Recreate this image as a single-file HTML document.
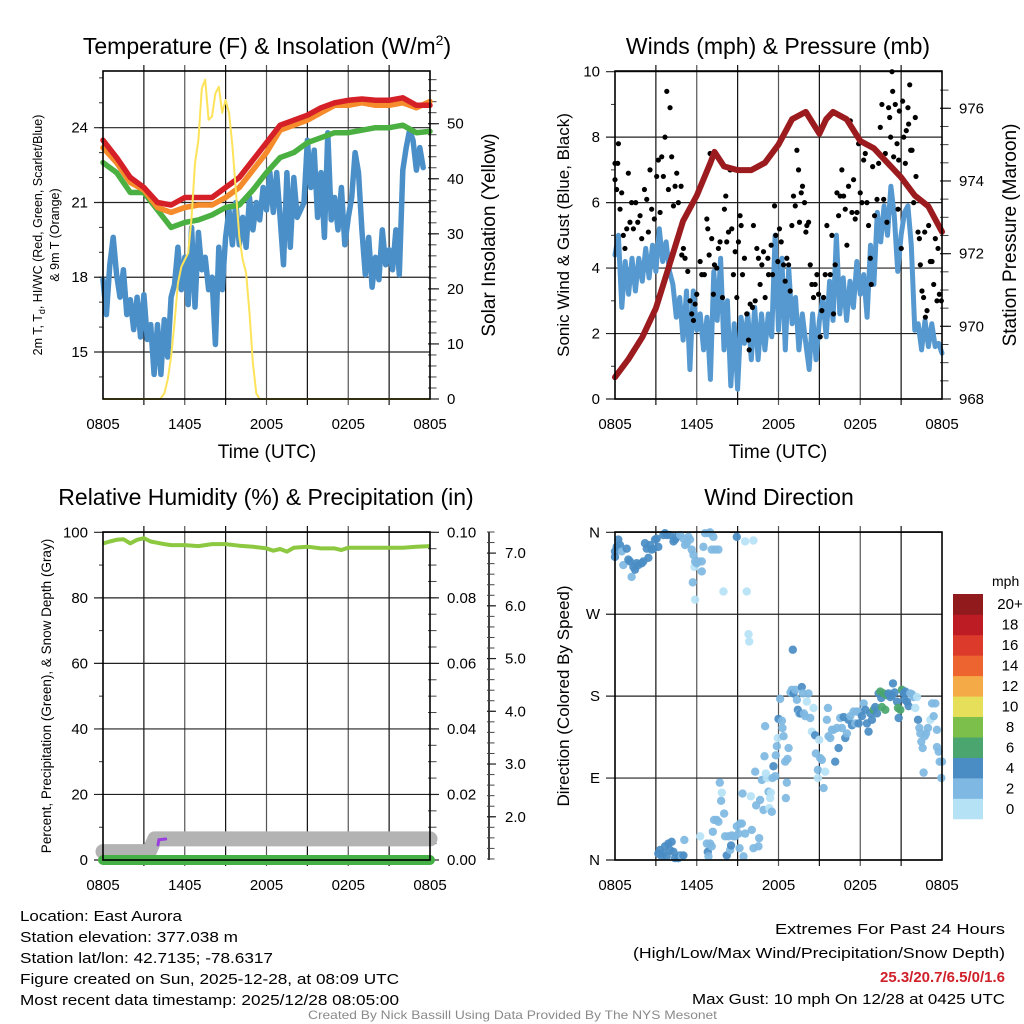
<!DOCTYPE html>
<html><head><meta charset="utf-8">
<style>
html,body{margin:0;padding:0;background:#fff;}
svg{display:block;font-family:"Liberation Sans",Arial,sans-serif;}
.nar{font-family:"Liberation Sans Narrow","Liberation Sans",sans-serif;}
</style></head>
<body>
<svg id="fig" width="1024" height="1024" viewBox="0 0 1024 1024" xmlns="http://www.w3.org/2000/svg">
<rect x="0" y="0" width="1024" height="1024" fill="#fff"/>
<text x="267" y="54" font-size="23" text-anchor="middle">Temperature (F) &amp; Insolation (W/m<tspan dy="-9" font-size="14">2</tspan><tspan dy="9">)</tspan></text>
<text x="778" y="54" font-size="23" text-anchor="middle">Winds (mph) &amp; Pressure (mb)</text>
<text x="266" y="505" font-size="23" text-anchor="middle">Relative Humidity (%) &amp; Precipitation (in)</text>
<text x="779" y="505" font-size="23" text-anchor="middle">Wind Direction</text>
<text x="267" y="458" font-size="19" text-anchor="middle">Time (UTC)</text>
<text x="778" y="458" font-size="19" text-anchor="middle">Time (UTC)</text>
<text transform="translate(42,235) rotate(-90)" font-size="12.5" text-anchor="middle">2m T, T<tspan font-size="9" dy="3">d</tspan><tspan dy="-3">, HI/WC (Red, Green, Scarlet/Blue)</tspan></text>
<text transform="translate(59,235) rotate(-90)" font-size="12.5" text-anchor="middle">&amp; 9m T (Orange)</text>
<text transform="translate(495,235) rotate(-90)" font-size="19" text-anchor="middle">Solar Insolation (Yellow)</text>
<text transform="translate(569,235) rotate(-90)" font-size="17" text-anchor="middle">Sonic Wind &amp; Gust (Blue, Black)</text>
<text transform="translate(1016,235) rotate(-90)" font-size="19" text-anchor="middle">Station Pressure (Maroon)</text>
<text transform="translate(51,696) rotate(-90)" font-size="13.5" text-anchor="middle">Percent, Precipitation (Green), &amp; Snow Depth (Gray)</text>
<text transform="translate(569,696) rotate(-90)" font-size="17" text-anchor="middle">Direction (Colored By Speed)</text>
<text x="992" y="586" font-size="14">mph</text>
<g class="nar" font-size="15">
<text x="20" y="921" textLength="162" lengthAdjust="spacingAndGlyphs">Location: East Aurora</text>
<text x="20" y="942" textLength="218" lengthAdjust="spacingAndGlyphs">Station elevation: 377.038 m</text>
<text x="20" y="963" textLength="253" lengthAdjust="spacingAndGlyphs">Station lat/lon: 42.7135; -78.6317</text>
<text x="20" y="984" textLength="379" lengthAdjust="spacingAndGlyphs">Figure created on Sun, 2025-12-28, at 08:09 UTC</text>
<text x="20" y="1005" textLength="379" lengthAdjust="spacingAndGlyphs">Most recent data timestamp: 2025/12/28 08:05:00</text>
</g>
<g class="nar" font-size="15">
<text x="775" y="934" textLength="230" lengthAdjust="spacingAndGlyphs">Extremes For Past 24 Hours</text>
<text x="633" y="958" textLength="372" lengthAdjust="spacingAndGlyphs">(High/Low/Max Wind/Precipitation/Snow Depth)</text>
<text x="880" y="982" textLength="125" lengthAdjust="spacingAndGlyphs" font-weight="bold" fill="#d0202a">25.3/20.7/6.5/0/1.6</text>
<text x="692" y="1004" textLength="313" lengthAdjust="spacingAndGlyphs">Max Gust: 10 mph On 12/28 at 0425 UTC</text>
</g>
<text x="308" y="1019" font-size="12" fill="#8a8a8a" textLength="409" lengthAdjust="spacingAndGlyphs" class="nar">Created By Nick Bassill Using Data Provided By The NYS Mesonet</text>
</svg>
<script>
// ---- Data (hours since 0805 UTC) ----
const tHours = [0,1,2,3,4,5,6,7,8,9,10,11,12,13,14,15,16,17,18,19,20,21,22,23,24];
const tempRed = [23.5,22.8,22.0,21.6,21.0,20.9,21.2,21.2,21.2,21.6,22.0,22.7,23.4,24.1,24.3,24.5,24.8,25.0,25.1,25.15,25.1,25.1,25.2,24.9,24.9];
const tempOrange = [23.2,22.6,21.8,21.5,20.8,20.6,20.8,20.9,20.9,21.2,21.6,22.3,23.0,23.9,24.1,24.3,24.6,24.9,24.9,25.0,24.9,24.9,25.0,24.8,25.05];
const tempGreen = [22.6,22.2,21.4,21.4,20.7,20.0,20.2,20.3,20.5,20.8,20.9,21.5,22.2,22.8,23.0,23.4,23.6,23.8,23.8,23.9,24.0,24.0,24.1,23.8,23.85];
const dewHours = [0,0.25,0.5,0.75,1,1.25,1.5,1.75,2,2.25,2.5,2.75,3,3.25,3.5,3.75,4,4.25,4.5,4.75,5,5.25,5.5,5.75,6,6.25,6.5,6.75,7,7.25,7.5,7.75,8,8.25,8.5,8.75,9,9.25,9.5,9.75,10,10.25,10.5,10.75,11,11.25,11.5,11.75,12,12.25,12.5,12.75,13,13.25,13.5,13.75,14,14.25,14.5,14.75,15,15.25,15.5,15.75,16,16.25,16.5,16.75,17,17.25,17.5,17.75,18,18.25,18.5,18.75,19,19.25,19.5,19.75,20,20.25,20.5,20.75,21,21.25,21.5,21.75,22,22.25,22.5,22.75,23,23.25,23.5];
const dewBlue = [17.9,16.5,18.5,19.6,18.1,17.2,18.3,16.5,17.1,15.9,17.2,15.6,17.3,15.5,16.1,14.1,16.1,14.1,16.3,14.8,17.2,17.7,19.2,17.5,18.8,16.9,20.0,16.8,19.8,18.3,18.8,17.5,18.0,15.3,19.2,17.5,19.6,20.7,19.3,21.0,19.3,20.4,19.2,21.2,19.9,21.0,20.3,21.6,20.7,22.2,20.6,22.2,20.4,18.5,22.2,19.2,22.0,20.4,20.7,21.0,23.5,21.6,23.1,20.4,22.2,19.6,23.8,20.3,21.2,19.9,21.6,19.3,20.4,21.2,23.0,22.2,19.9,18.1,19.6,17.6,18.8,17.9,19.9,18.5,19.1,18.3,19.9,18.1,22.3,23.2,23.9,23.5,22.3,23.2,22.4];
const solarHours = [0,4.2,4.5,4.75,5,5.25,5.5,5.75,6,6.25,6.5,6.75,7,7.25,7.5,7.75,8,8.25,8.5,8.75,9,9.25,9.5,9.75,10,10.25,10.5,10.75,11,11.25,11.5,24];
const solar = [0,0,1,3.5,7.7,13.8,21,24,25.3,26.5,33,42.8,47,56.4,58,50.7,51.3,55.5,56.7,52,54.3,52,46,38,29.5,25.3,22.9,15.6,6.5,1,0,0];
const presHours = [0,1,2,3,4,5,6,7,7.3,8,9,10,11,12,13,14,15,15.5,16,17,18,19,20,21,22,23,24];
const pressure = [968.6,969.1,969.7,970.5,971.7,972.9,973.6,974.5,974.8,974.4,974.3,974.3,974.5,975.0,975.7,975.9,975.3,975.7,975.9,975.7,975.1,974.9,974.5,974.1,973.6,973.3,972.6];
const windHours = [0,0.25,0.5,0.75,1,1.25,1.5,1.75,2,2.25,2.5,2.75,3,3.25,3.5,3.75,4,4.25,4.5,4.75,5,5.25,5.5,5.75,6,6.25,6.5,6.75,7,7.25,7.5,7.75,8,8.25,8.5,8.75,9,9.25,9.5,9.75,10,10.25,10.5,10.75,11,11.25,11.5,11.75,12,12.25,12.5,12.75,13,13.25,13.5,13.75,14,14.25,14.5,14.75,15,15.25,15.5,15.75,16,16.25,16.5,16.75,17,17.25,17.5,17.75,18,18.25,18.5,18.75,19,19.25,19.5,19.75,20,20.25,20.5,20.75,21,21.25,21.5,21.75,22,22.25,22.5,22.75,23,23.25,23.5,23.75,24];
const windSpeed = [4.4,5.0,2.8,4.2,3.2,4.3,3.3,4.3,3.6,4.6,3.7,4.7,3.9,5.2,4.2,4.8,3.9,3.5,2.5,3.1,1.8,3.3,0.9,3.3,2.1,2.6,1.5,2.5,0.6,3.9,2.4,4.3,1.5,3.0,0.4,2.3,0.3,2.5,1.7,2.6,1.2,2.8,1.2,2.6,1.5,2.6,1.9,5.0,2.1,4.3,1.5,4.0,2.3,3.1,1.5,2.6,1.7,0.9,2.6,1.2,2.4,3.1,1.9,3.6,2.4,5.0,2.6,3.7,2.4,3.6,2.8,4.2,3.2,3.8,2.5,4.7,3.5,5.7,4.8,5.9,5.0,6.5,5.6,3.9,5.0,5.7,5.9,4.7,2.1,2.3,1.5,2.4,1.6,2.3,1.6,1.7,1.4];
const gustHours = [0,0,0.2,0.25,0.12,0.37,0.49,0.61,0.73,0.86,0.98,1.1,1.22,1.35,1.52,1.67,1.84,1.96,2.16,2.33,2.45,2.57,2.69,2.89,3.06,3.18,3.31,3.43,3.55,3.67,3.8,3.92,4.04,4.16,4.29,4.41,4.53,4.65,4.78,4.85,4.9,5.02,5.14,5.34,5.51,5.63,5.76,5.88,6.0,6.25,6.37,6.56,6.74,6.81,6.91,6.98,7.1,7.22,7.3,7.47,7.59,7.71,7.89,8.03,8.13,8.2,8.33,8.45,8.57,8.69,8.82,8.94,9.06,9.18,9.26,9.36,9.5,9.67,9.8,9.85,9.92,10.09,10.16,10.29,10.41,10.53,10.65,10.78,10.9,11.02,11.22,11.27,11.46,11.56,11.71,11.8,11.95,12.07,12.2,12.37,12.49,12.61,12.74,12.86,12.98,13.1,13.23,13.35,13.47,13.54,13.67,13.76,13.91,14.01,14.08,14.21,14.33,14.45,14.57,14.69,14.82,14.94,15.06,15.18,15.31,15.43,15.55,15.8,15.92,16.04,16.16,16.29,16.41,16.53,16.65,16.78,16.9,17.02,17.14,17.27,17.39,17.51,17.63,17.76,17.88,18.0,18.12,18.25,18.37,18.49,18.61,18.74,18.81,18.91,19.05,19.23,19.35,19.47,19.59,19.72,19.84,19.96,20.08,20.16,20.23,20.33,20.38,20.45,20.57,20.7,20.77,20.82,20.87,21.01,21.11,21.19,21.31,21.38,21.5,21.55,21.63,21.7,21.8,21.92,22.04,22.09,22.24,22.34,22.41,22.53,22.65,22.73,22.78,22.9,23.02,23.14,23.27,23.39,23.51,23.63,23.71,23.81,23.95];
const gustSpeed = [7.2,6.7,7.2,7.8,6.4,5.8,6.3,5.0,4.6,5.2,6.9,5.4,6.0,5.2,6.0,5.4,5.6,4.9,6.4,6.1,5.1,7.0,5.8,5.5,6.8,7.3,5.7,7.4,6.8,8.0,9.4,6.4,8.9,7.4,5.9,6.5,6.9,6.0,5.2,6.5,4.4,4.6,4.3,3.9,3.0,2.6,2.4,2.9,3.2,4.2,3.8,3.8,5.5,5.2,4.4,7.5,4.9,3.2,4.1,4.0,4.6,4.8,3.1,5.8,6.2,4.8,5.1,7.0,5.2,3.8,4.5,3.1,4.8,5.6,5.3,3.8,4.3,2.6,1.8,1.5,2.9,2.8,5.3,3.0,4.6,4.3,3.5,4.1,4.5,3.1,4.3,3.8,4.7,3.8,5.9,5.0,4.2,5.2,4.8,4.1,3.6,4.3,4.1,3.3,5.3,6.2,5.9,7.6,7.0,5.4,6.3,6.5,6.0,5.1,5.3,5.4,4.1,3.5,3.1,3.5,3.8,3.2,1.9,2.7,3.1,3.8,5.3,3.8,5.0,2.6,4.1,6.3,5.6,6.2,7.0,6.2,5.8,4.7,6.5,8.5,5.7,6.7,5.5,5.7,7.8,6.3,6.0,7.3,7.5,6.0,5.3,4.3,3.5,7.1,5.6,6.1,7.2,8.3,9.0,6.1,7.5,5.4,8.9,8.6,8.0,10.0,9.4,7.4,9.0,7.8,5.8,7.3,8.8,4.6,9.1,8.0,7.2,8.2,8.9,8.4,9.6,7.6,7.6,6.0,8.6,6.8,5.1,4.9,4.1,3.3,3.1,5.1,2.5,2.7,5.3,4.2,4.2,3.5,4.9,3.0,4.6,3.2,3.0];
const rhHours = [0,0.5,1,1.5,2,2.5,3,3.5,4,4.5,5,6,7,8,9,10,11,12,12.5,13,13.5,14,15,16,17,17.5,18,19,20,21,22,23,24];
const rh = [96.6,97.2,97.7,97.9,96.6,97.7,98.2,97.2,96.8,96.4,96.1,96.1,95.8,96.4,96.4,95.9,95.6,95.1,94.4,94.9,94.1,95.3,95.6,95.1,95.1,94.6,95.3,95.3,95.3,95.3,95.3,95.6,95.8];
const precipHours = [0,24];
const precip = [0,0];
const snowHours = [0,3.4,3.8,24];
const snowDepth = [1.34,1.34,1.58,1.58];
const purpleHours = [4.04,4.1,4.6];
const purpleVals = [4.6,6.2,6.4];
const dirHours = [0,0,0.12,0.24,0.37,0.49,0.61,0.86,0.98,1.1,1.22,1.35,1.47,1.59,1.71,1.96,2.08,2.2,2.33,2.45,2.57,2.69,2.82,2.94,3.06,3.18,3.55,3.67,3.8,4.04,4.29,4.41,4.53,4.78,5.02,5.14,5.27,5.39,5.51,5.63,5.76,5.83,5.88,6.0,6.12,6.37,6.37,5.71,5.88,6.49,6.61,6.86,6.98,7.1,7.22,7.35,7.59,7.96,8.94,9.55,9.67,9.8,9.85,10.16,
3.18,3.31,3.43,3.55,3.67,3.8,3.92,4.04,4.16,4.29,4.41,4.65,4.78,4.9,5.02,5.09,6.25,6.74,6.81,6.86,6.98,7.1,7.18,7.27,7.47,7.59,7.69,7.79,7.84,8.01,8.08,8.2,8.33,8.45,8.52,8.57,8.69,8.82,8.94,9.06,9.18,9.31,9.43,9.14,9.36,9.55,9.97,10.04,10.16,10.29,10.36,10.53,10.58,10.65,10.78,10.9,11.02,10.97,11.07,11.14,11.27,11.32,11.39,11.44,11.51,11.56,11.63,11.76,11.8,11.88,11.95,12.0,12.12,12.25,12.29,12.37,12.49,12.54,12.61,12.66,12.74,12.88,12.98,13.05,13.1,13.23,13.35,13.42,13.52,13.61,13.71,13.79,13.86,13.96,14.08,14.2,14.33,14.45,14.57,14.69,14.74,14.89,14.89,14.99,15.06,15.18,15.31,15.43,15.55,15.63,15.67,15.8,15.92,16.04,16.16,16.29,16.41,16.53,16.65,16.78,16.9,17.02,17.14,17.27,17.39,17.51,17.63,17.76,17.88,18.0,18.12,18.25,18.37,18.49,18.61,18.74,18.86,18.98,19.1,19.23,19.35,19.47,19.54,19.59,19.72,19.84,19.96,20.08,20.21,20.33,20.4,20.52,20.7,20.77,20.82,20.94,21.06,21.19,21.26,21.31,21.43,21.55,21.67,21.8,21.92,22.04,22.17,22.24,22.34,22.41,22.48,22.58,22.65,22.73,22.83,22.97,23.14,23.27,23.39,23.51,23.63,23.63,23.76,23.83,24.0,23.95];
const dirDeg = [333,339,344,352,346,339,324,342,330,328,311,322,319,326,324,326,328,348,342,332,346,341,342,352,353,344,357,359,357,357,350,352,355,357,353,346,348,355,352,341,335,322,328,326,328,328,317,305,286,344,359,359,360,341,355,341,341,295,355,350,295,248,240,351,
7,11,4,7,15,4,18,11,20,9,2,2,5,4,5,22,26,18,9,4,18,15,31,44,44,42,85,65,74,51,26,5,26,11,16,27,26,26,37,29,40,40,4,13,73,29,70,33,13,97,60,15,24,66,88,55,147,114,95,90,75,57,68,74,53,90,103,92,115,125,134,155,177,153,145,136,108,68,85,111,123,184,187,231,183,187,176,165,161,161,190,183,161,158,174,183,156,141,167,137,117,99,90,132,112,110,79,97,154,167,136,134,143,143,108,145,123,156,145,157,134,139,154,158,148,163,150,163,150,163,158,172,165,150,141,161,154,165,168,161,183,185,178,168,183,165,181,183,179,181,194,184,174,167,156,165,187,183,176,185,174,169,183,182,179,167,179,154,145,139,130,123,96,136,139,145,154,172,158,172,143,124,119,108,108,90];
const dirSpeed = [5,5,5,5,5,3,3,5,5,5,3,5,5,5,5,5,5,5,5,5,5,5,5,5,5,5,5,5,5,5,5,5,5,3,3,3,3,3,3,3,3,1,3,3,3,3,3,3,1,3,3,3,3,3,3,3,3,1,5,1,1,1,1,1,
5,5,5,5,5,5,5,5,5,5,5,5,5,3,5,3,1,3,5,3,3,3,3,3,3,3,3,3,1,3,3,5,3,3,5,3,3,3,3,3,3,3,3,3,3,3,1,3,3,3,3,3,3,3,3,3,3,3,1,1,3,1,1,1,3,3,5,3,3,3,1,5,3,3,3,3,3,3,3,3,3,3,3,5,5,3,3,5,3,5,5,3,3,3,1,3,3,1,1,5,3,3,1,1,3,3,3,1,3,3,3,3,3,3,5,3,5,3,3,5,5,3,5,3,5,3,3,3,5,3,5,3,5,5,5,5,5,7,5,5,5,7,5,7,7,7,7,5,5,5,5,5,5,7,5,7,7,5,5,5,5,5,3,3,3,1,1,5,3,3,3,3,3,3,3,3,1,3,3,3,3,3,3,3,3,3,3,3,3];
const speedBins = ['0','2','4','6','8','10','12','14','16','18','20+'];
const binColors = ['#b6e2f6','#7fb8e2','#4a8dc4','#4aa66e','#7cbf4a','#e6df5a','#f5aa48','#ee6431','#dc3a2b','#bd1c24','#911a1c'];
const xTickLabels = ['0805','1405','2005','0205','0805'];

// ---- helpers ----
const NS = 'http://www.w3.org/2000/svg';
const svg = document.getElementById('fig');
function mk(parent, tag, attrs){ const e=document.createElementNS(NS,tag); for(const k in attrs) e.setAttribute(k,attrs[k]); parent.appendChild(e); return e; }
function lin(d0,d1,r0,r1){ return v => r0 + (v-d0)*(r1-r0)/(d1-d0); }
function pathFrom(xs, ys, fx, fy){ let d=''; for(let i=0;i<xs.length;i++){ d += (i?'L':'M') + fx(xs[i]).toFixed(1)+','+fy(ys[i]).toFixed(1); } return d; }

function panelFrame(g, P, name){
  const sx = lin(0,24,P.x0,P.x1);
  for(let h=3; h<24; h+=3){
    const ln = mk(g,'line',{x1:sx(h),x2:sx(h),y1:P.y0-6,y2:P.y1+6,stroke: h%6===0?'#555':'#111','stroke-width':1.2});
    
    
  }
  for(let i=0;i<xTickLabels.length;i++){
    const tx = mk(g,'text',{x:sx(i*6),y:P.y1+30,'font-size':15,'text-anchor':'middle'});
    tx.textContent = xTickLabels[i];
    
    
  }
}
function leftAxis(g, P, name, fy, majors, labels, minors, gridOn){
  for(const m of minors){
    const t = mk(g,'line',{x1:P.x0-4,x2:P.x0,y1:fy(m),y2:fy(m),stroke:'#333','stroke-width':1});
    
    
  }
  majors.forEach((m,i)=>{
    const y=fy(m);
    const ln = mk(g,'line',{x1:P.x0-9,x2:gridOn?P.x1:P.x0,y1:y,y2:y,stroke:'#222','stroke-width':1.2});
    
    
    const tx = mk(g,'text',{x:P.x0-15,y:y+5,'font-size':15,'text-anchor':'end'});
    tx.textContent = labels[i];
    
    
  });
}
function rightAxis(g, xAxis, name, fy, majors, labels, minors, lx, mlen){
  for(const m of minors){
    const t = mk(g,'line',{x1:xAxis-2,x2:xAxis+mlen/2+2,y1:fy(m),y2:fy(m),stroke:'#444','stroke-width':1});
    
    
  }
  majors.forEach((m,i)=>{
    const y=fy(m);
    const ln = mk(g,'line',{x1:xAxis-2,x2:xAxis+mlen,y1:y,y2:y,stroke:'#222','stroke-width':1.2});
    
    
    const tx = mk(g,'text',{x:lx,y:y+5,'font-size':15});
    tx.textContent = labels[i];
    
    
  });
}
function box(g,P,name){
  const r = mk(g,'rect',{x:P.x0,y:P.y0,width:P.x1-P.x0,height:P.y1-P.y0,fill:'none',stroke:'#000','stroke-width':1.6});
  
  
}
function rng(a,b,s){ const o=[]; for(let v=a; v<=b+1e-9; v+=s) o.push(+v.toFixed(4)); return o; }

// ===== Panel 1: Temperature =====
{
  const P={x0:103,x1:430,y0:71,y1:399};
  const g = mk(svg,'g',{});
  
  
  const sx = lin(0,24,P.x0,P.x1);
  const fy = lin(15,24,352,127.7);
  const fs = lin(0,50,399,123.7);
  panelFrame(g,P,'temperature');
  leftAxis(g,P,'temperature',fy,[15,18,21,24],['15','18','21','24'],rng(14,26,1),true);
  rightAxis(g,P.x1,'solar',fs,[0,10,20,30,40,50],['0','10','20','30','40','50'],rng(2,58,2),447,9);
  const cl = mk(g,'clipPath',{id:'c1'}); mk(cl,'rect',{x:P.x0-4,y:P.y0,width:P.x1-P.x0+8,height:P.y1-P.y0});
  const series = [[dewHours,dewBlue,'#4a8fc8',5.5,'dewpoint-line'],[tHours,tempGreen,'#4bb042',5.5,'heat-index-line'],[tHours,tempOrange,'#f58b2a',5.5,'temp-9m-line'],[tHours,tempRed,'#d62027',5.5,'temp-2m-line']];
  for(const s of series){
    const p = mk(g,'path',{d:pathFrom(s[0],s[1],sx,fy),fill:'none',stroke:s[2],'stroke-width':s[3],'stroke-linejoin':'round','stroke-linecap':'round','clip-path':'url(#c1)'});
    
    
  }
  const sp = mk(g,'path',{d:pathFrom(solarHours,solar,sx,fs),fill:'none',stroke:'#fde35a','stroke-width':2,'stroke-linejoin':'round'});
  
  
  box(g,P,'temperature');
}

// ===== Panel 2: Winds =====
{
  const P={x0:615,x1:942,y0:71,y1:399};
  const g = mk(svg,'g',{});
  
  
  const sx = lin(0,24,P.x0,P.x1);
  const fy = lin(0,10,399,71.7);
  const fp = lin(968,976,399,108.3);
  panelFrame(g,P,'winds');
  leftAxis(g,P,'winds',fy,[0,2,4,6,8,10],['0','2','4','6','8','10'],rng(1,9,1),true);
  rightAxis(g,P.x1,'pressure',fp,[968,970,972,974,976],['968','970','972','974','976'],rng(968.5,976.5,0.5),959,9);
  const wp = mk(g,'path',{d:pathFrom(windHours,windSpeed,sx,fy),fill:'none',stroke:'#5599d0','stroke-width':5,'stroke-linejoin':'round','stroke-linecap':'round'});
  
  
  for(let i=0;i<gustHours.length;i++){
    const c = mk(g,'circle',{cx:sx(gustHours[i]),cy:fy(gustSpeed[i]),r:2.6,fill:'#000'});
    
    
  }
  const pp = mk(g,'path',{d:pathFrom(presHours,pressure,sx,fp),fill:'none',stroke:'#9b1b1e','stroke-width':6,'stroke-linejoin':'round','stroke-linecap':'round'});
  
  
  box(g,P,'winds');
}

// ===== Panel 3: Humidity =====
{
  const P={x0:103,x1:430,y0:532,y1:860};
  const g = mk(svg,'g',{});
  
  
  const sx = lin(0,24,P.x0,P.x1);
  const fy = lin(0,100,860,532.3);
  const fr = lin(0,0.1,860,532.3);
  const fsd = lin(1.18,7.4,860,532);
  panelFrame(g,P,'humidity');
  leftAxis(g,P,'humidity',fy,[0,20,40,60,80,100],['0','20','40','60','80','100'],rng(10,90,10),true);
  rightAxis(g,P.x1,'precip',fr,[0,0.02,0.04,0.06,0.08,0.1],['0.00','0.02','0.04','0.06','0.08','0.10'],rng(0.005,0.095,0.005),447,9);
  const ax = mk(g,'line',{x1:489,x2:489,y1:532,y2:860,stroke:'#000','stroke-width':1.5});
  
  
  rightAxis(g,489,'snow-depth',fsd,[2,3,4,5,6,7],['2.0','3.0','4.0','5.0','6.0','7.0'],rng(1.2,7.4,0.2),505,7);
  const sd = mk(g,'path',{d:pathFrom(snowHours,snowDepth,sx,fsd),fill:'none',stroke:'#b3b3b3','stroke-width':15,'stroke-linejoin':'round','stroke-linecap':'round'});
  
  
  const pr = mk(g,'path',{d:pathFrom(precipHours,precip,sx,fr),fill:'none',stroke:'#45b045','stroke-width':10,'stroke-linecap':'round'});
  
  
  const pu = mk(g,'path',{d:pathFrom(purpleHours,purpleVals,sx,fy),fill:'none',stroke:'#9a3ee0','stroke-width':3,'stroke-linecap':'round'});
  
  
  const rl = mk(g,'path',{d:pathFrom(rhHours,rh,sx,fy),fill:'none',stroke:'#8cc840','stroke-width':4,'stroke-linejoin':'round'});
  
  
  box(g,P,'humidity');
}

// ===== Panel 4: Wind direction =====
{
  const P={x0:615,x1:942,y0:532,y1:860};
  const g = mk(svg,'g',{});
  
  
  const sx = lin(0,24,P.x0,P.x1);
  const fy = lin(0,360,860,532.3);
  panelFrame(g,P,'direction');
  leftAxis(g,P,'direction',fy,[0,90,180,270,360],['N','E','S','W','N'],[],true);
  const nPts = Math.min(dirHours.length, dirDeg.length);
  for(let i=0;i<nPts;i++){
    const spd = (dirSpeed[i]===undefined) ? 3 : dirSpeed[i];
    const b = Math.min(10, Math.floor(spd/2));
    const c = mk(g,'circle',{cx:sx(dirHours[i]),cy:fy(dirDeg[i]),r:4.2,fill:binColors[b],'fill-opacity':0.92});
    
    
  }
  const cb = mk(svg,'g',{});
  
  
  const n = speedBins.length;
  const by = lin(0,n,819,594);
  for(let i=0;i<n;i++){
    const r = mk(cb,'rect',{x:953,y:by(i+1),width:30,height:by(i)-by(i+1)+0.3,fill:binColors[i]});
    
    
  }
  for(let i=0;i<n;i++){
    const t = mk(cb,'text',{x:1010,y:by(i+0.5)+5,'font-size':15,'text-anchor':'middle'});
    t.textContent = speedBins[i];
    
    
  }
  box(g,P,'direction');
}
</script>
</body></html>
